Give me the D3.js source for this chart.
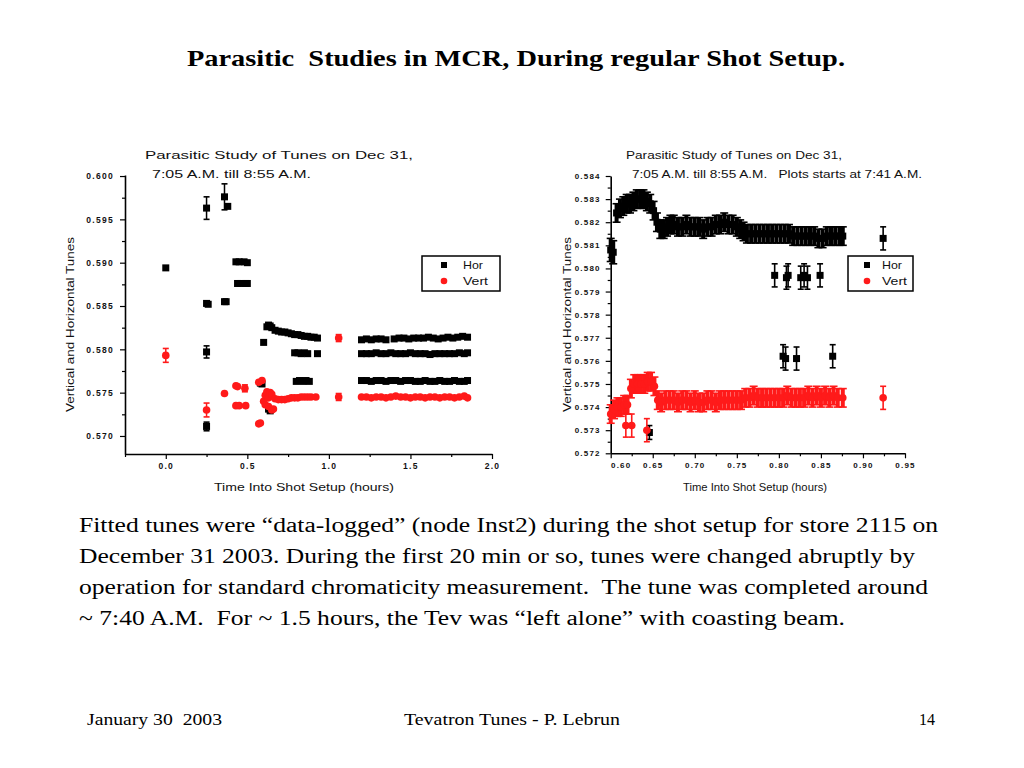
<!DOCTYPE html>
<html><head><meta charset="utf-8">
<script src="https://cdn.jsdelivr.net/npm/d3@7"></script>
<style>body{margin:0;background:#fff}svg{display:block}</style>
</head><body>
<svg id="c" width="1024" height="768"></svg>
<script>
// ---------- text ----------
const slideTitle = "Parasitic  Studies in MCR, During regular Shot Setup.";
const bodyLines = [
  "Fitted tunes were \u201cdata-logged\u201d (node Inst2) during the shot setup for store 2115 on",
  "December 31 2003. During the first 20 min or so, tunes were changed abruptly by",
  "operation for standard chromaticity measurement.  The tune was completed around",
  "~ 7:40 A.M.  For ~ 1.5 hours, the Tev was \u201cleft alone\u201d with coasting beam."
];
const footerLeft = "January 30  2003";
const footerCenter = "Tevatron Tunes - P. Lebrun";
const footerRight = "14";
const seriesNames = ["Hor", "Vert"];
const xAxisTitle = "Time Into Shot Setup (hours)";
const yAxisTitle = "Vertical and Horizontal Tunes";
const leftTitle = ["Parasitic Study of Tunes on Dec 31,", "7:05 A.M. till 8:55 A.M."];
const rightTitle = ["Parasitic Study of Tunes on Dec 31,", "7:05 A.M. till 8:55 A.M.   Plots starts at 7:41 A.M."];

// ---------- ticks ----------
const leftXTicks = [0.0, 0.5, 1.0, 1.5, 2.0];
const leftXLabels = ["0.0", "0.5", "1.0", "1.5", "2.0"];
const leftXMinor = [-0.25, 0.25, 0.75, 1.25, 1.75];
const leftYTicks = [0.570, 0.575, 0.580, 0.585, 0.590, 0.595, 0.600];
const leftYLabels = ["0.570", "0.575", "0.580", "0.585", "0.590", "0.595", "0.600"];
const leftYMinor = [0.5725, 0.5775, 0.5825, 0.5875, 0.5925, 0.5975];

const rightXTicks = [0.60, 0.65, 0.70, 0.75, 0.80, 0.85, 0.90, 0.95];
const rightXLabels = ["0.60", "0.65", "0.70", "0.75", "0.80", "0.85", "0.90", "0.95"];
const rightXMinor = [0.625, 0.675, 0.725, 0.775, 0.825, 0.875, 0.925];
const rightYTicks = [0.572, 0.573, 0.574, 0.575, 0.576, 0.577, 0.578, 0.579, 0.580, 0.581, 0.582, 0.583, 0.584];
const rightYLabels = ["0.572", "0.573", "0.574", "0.575", "0.576", "0.577", "0.578", "0.579", "0.580", "0.581", "0.582", "0.583", "0.584"];
const rightYMinor = [0.5725, 0.5735, 0.5745, 0.5755, 0.5765, 0.5775, 0.5785, 0.5795, 0.5805, 0.5815, 0.5825, 0.5835];

// ---------- data: [time (h), tune, error] ----------
const leftHor = [
  [0.00,0.5894,0],
  [0.25,0.5963,0.0013],[0.36,0.5976,0.0015],[0.38,0.5965,0],
  [0.43,0.5901,0],[0.45,0.5901,0],[0.48,0.5901,0],[0.50,0.5900,0],
  [0.44,0.5876,0],[0.46,0.5876,0],[0.49,0.5876,0],[0.50,0.5876,0],
  [0.25,0.5853,0],[0.26,0.5852,0],[0.36,0.5855,0],[0.37,0.5855,0],
  [0.25,0.5797,0.0007],[0.25,0.5711,0.0005],
  [0.60,0.5808,0],[0.58,0.5761,0],[0.59,0.5760,0],[0.63,0.5731,0],[0.64,0.5729,0],
  [0.62,0.5826,0],[0.63,0.5828,0],[0.64,0.5827,0],[0.65,0.5825,0],[0.67,0.5822,0],[0.69,0.5821,0],
  [0.71,0.5820,0],[0.73,0.5820,0],[0.75,0.5819,0],[0.77,0.5818,0],[0.79,0.5817,0],[0.81,0.5817,0],
  [0.83,0.5816,0],[0.85,0.5815,0],[0.87,0.5815,0],[0.89,0.5814,0],[0.91,0.5814,0],[0.93,0.5813,0],
  [0.79,0.5796,0],[0.81,0.5796,0],[0.83,0.5795,0],[0.85,0.5796,0],[0.87,0.5795,0],[0.93,0.5795,0],
  [0.80,0.5763,0],[0.82,0.5764,0],[0.84,0.5763,0],[0.86,0.5764,0],[0.88,0.5763,0],
  [1.20,0.5811,0],[1.23,0.5812,0],[1.26,0.5811,0],[1.29,0.5812,0],[1.32,0.5812,0],[1.35,0.5811,0],
  [1.40,0.5812,0],[1.43,0.5813,0],[1.46,0.5813,0],[1.49,0.5812,0],[1.52,0.5813,0],[1.55,0.5813,0],
  [1.58,0.5813,0],[1.61,0.5814,0],[1.64,0.5813,0],[1.67,0.5812,0],[1.70,0.5813,0],[1.73,0.5814,0],
  [1.76,0.5813,0],[1.79,0.5814,0],[1.82,0.5815,0],[1.85,0.5814,0],
  [1.20,0.5795,0],[1.23,0.5795,0],[1.26,0.5795,0],[1.29,0.5796,0],[1.32,0.5795,0],[1.35,0.5795,0],
  [1.38,0.5796,0],[1.41,0.5795,0],[1.44,0.5795,0],[1.47,0.5795,0],[1.50,0.5796,0],[1.53,0.5795,0],
  [1.56,0.5795,0],[1.59,0.5795,0],[1.62,0.5794,0],[1.65,0.5795,0],[1.68,0.5795,0],[1.71,0.5795,0],
  [1.74,0.5795,0],[1.77,0.5795,0],[1.80,0.5796,0],[1.83,0.5795,0],[1.85,0.5796,0],
  [1.20,0.5764,0],[1.23,0.5764,0],[1.26,0.5763,0],[1.29,0.5764,0],[1.32,0.5764,0],[1.35,0.5763,0],
  [1.38,0.5764,0],[1.41,0.5764,0],[1.44,0.5763,0],[1.47,0.5764,0],[1.50,0.5764,0],[1.53,0.5763,0],
  [1.56,0.5763,0],[1.59,0.5764,0],[1.62,0.5763,0],[1.65,0.5763,0],[1.68,0.5764,0],[1.71,0.5763,0],
  [1.74,0.5763,0],[1.77,0.5764,0],[1.80,0.5763,0],[1.83,0.5763,0],[1.85,0.5764,0]
];
const leftVert = [
  [0.00,0.5793,0.0008],[0.25,0.5730,0.0008],[0.36,0.5749,0],
  [0.43,0.5758,0],[0.44,0.5757,0],[0.485,0.5755,0.0004],
  [0.43,0.5735,0],[0.45,0.5735,0],[0.49,0.5735,0],
  [0.57,0.5762,0],[0.59,0.5764,0],[0.57,0.5714,0],[0.58,0.5715,0],
  [0.60,0.5740,0],[0.61,0.5736,0],[0.61,0.5747,0],[0.62,0.5751,0],[0.63,0.5744,0],[0.63,0.5734,0],
  [0.64,0.5750,0],[0.65,0.5730,0],[0.65,0.5748,0],[0.66,0.5731,0],[0.67,0.5743,0],[0.69,0.5742,0],
  [0.71,0.5742,0],[0.73,0.5742,0],[0.75,0.5743,0],[0.77,0.5744,0],[0.79,0.5744,0],[0.81,0.5744,0],
  [0.83,0.5745,0],[0.85,0.5745,0],[0.87,0.5745,0],[0.89,0.5745,0],[0.92,0.5745,0],
  [1.06,0.5813,0.0004],[1.06,0.5745,0.0004],
  [1.20,0.5745,0],[1.23,0.5745,0],[1.26,0.5744,0],[1.29,0.5745,0],[1.32,0.5745,0],[1.35,0.5744,0],
  [1.38,0.5745,0],[1.41,0.5746,0],[1.44,0.5745,0],[1.47,0.5745,0],[1.50,0.5744,0],[1.53,0.5745,0],
  [1.56,0.5745,0],[1.59,0.5744,0],[1.62,0.5745,0],[1.65,0.5745,0],[1.68,0.5744,0],[1.71,0.5745,0],
  [1.74,0.5745,0],[1.77,0.5744,0],[1.80,0.5745,0],[1.83,0.5746,0],[1.85,0.5744,0]
];
// right chart: continuous scan (dense) and isolated readings
const rightHorScan = [
  [0.600,0.5808,0.0005],[0.603,0.5807,0.0005],[0.607,0.5824,0.0004],[0.611,0.5826,0.0004],
  [0.615,0.5827,0.0004],[0.619,0.5828,0.0004],[0.623,0.5828,0.0004],[0.627,0.5829,0.0004],
  [0.631,0.5830,0.0004],[0.635,0.5830,0.0004],[0.639,0.5830,0.0004],[0.643,0.5829,0.0004],
  [0.647,0.5828,0.0004],[0.651,0.5825,0.0004],[0.655,0.5820,0.0004],[0.659,0.5817,0.0004],
  [0.663,0.5817,0.0004],[0.667,0.5818,0.0004],[0.671,0.5819,0.0004],[0.675,0.5819,0.0004],
  [0.680,0.5818,0.0004],[0.685,0.5818,0.0004],[0.690,0.5819,0.0004],[0.695,0.5818,0.0004],
  [0.700,0.5818,0.0004],[0.705,0.5818,0.0004],[0.710,0.5817,0.0004],[0.715,0.5818,0.0004],
  [0.720,0.5818,0.0004],[0.725,0.5819,0.0004],[0.730,0.5819,0.0004],[0.735,0.5820,0.0004],
  [0.740,0.5819,0.0004],[0.745,0.5819,0.0004],[0.750,0.5818,0.0004],[0.754,0.5817,0.0004],
  [0.758,0.5816,0.0004],[0.762,0.5815,0.0004],[0.767,0.5815,0.0004],[0.772,0.5815,0.0004],
  [0.777,0.5815,0.0004],[0.782,0.5815,0.0004],[0.787,0.5815,0.0004],[0.792,0.5815,0.0004],
  [0.797,0.5815,0.0004],[0.802,0.5815,0.0004],[0.807,0.5815,0.0004],[0.812,0.5815,0.0004],
  [0.817,0.5814,0.0004],[0.822,0.5814,0.0004],[0.827,0.5814,0.0004],[0.832,0.5814,0.0004],
  [0.837,0.5814,0.0004],[0.842,0.5814,0.0004],[0.847,0.5813,0.0004],[0.852,0.5813,0.0004],
  [0.857,0.5814,0.0004],[0.862,0.5814,0.0004],[0.867,0.5814,0.0004],[0.872,0.5814,0.0004],
  [0.876,0.5814,0.0004]
];
const rightHorSpots = [
  [0.924,0.5813,0.0005],
  [0.795,0.5797,0.0005],[0.809,0.5796,0.0005],[0.811,0.5797,0.0005],[0.826,0.5796,0.0005],
  [0.830,0.5797,0.0005],[0.834,0.5796,0.0005],[0.849,0.5797,0.0005],
  [0.805,0.5762,0.0005],[0.808,0.5761,0.0005],[0.821,0.5761,0.0005],[0.864,0.5762,0.0005],
  [0.646,0.5729,0.0003]
];
const rightVertScan = [
  [0.600,0.5737,0.0004],[0.604,0.5739,0.0004],[0.608,0.5740,0.0004],[0.612,0.5740,0.0004],
  [0.616,0.5741,0.0004],[0.620,0.5741,0.0004],[0.624,0.5748,0.0004],[0.628,0.5750,0.0004],
  [0.632,0.5750,0.0004],[0.636,0.5750,0.0004],[0.640,0.5750,0.0004],[0.644,0.5751,0.0004],
  [0.648,0.5751,0.0004],[0.652,0.5749,0.0004],[0.656,0.5743,0.0004],[0.660,0.5742,0.0004],
  [0.665,0.5743,0.0004],[0.670,0.5743,0.0004],[0.675,0.5743,0.0004],[0.680,0.5742,0.0004],
  [0.685,0.5743,0.0004],[0.690,0.5743,0.0004],[0.695,0.5742,0.0004],[0.700,0.5743,0.0004],
  [0.705,0.5742,0.0004],[0.710,0.5742,0.0004],[0.715,0.5743,0.0004],[0.720,0.5743,0.0004],
  [0.725,0.5742,0.0004],[0.730,0.5743,0.0004],[0.735,0.5743,0.0004],[0.740,0.5743,0.0004],
  [0.745,0.5743,0.0004],[0.750,0.5743,0.0004],[0.755,0.5743,0.0004],[0.760,0.5744,0.0004],
  [0.765,0.5744,0.0004],[0.770,0.5745,0.0004],[0.775,0.5744,0.0004],[0.780,0.5744,0.0004],
  [0.785,0.5744,0.0004],[0.790,0.5744,0.0004],[0.795,0.5744,0.0004],[0.800,0.5744,0.0004],
  [0.805,0.5744,0.0004],[0.810,0.5745,0.0004],[0.815,0.5744,0.0004],[0.820,0.5744,0.0004],
  [0.825,0.5744,0.0004],[0.830,0.5744,0.0004],[0.835,0.5745,0.0004],[0.840,0.5744,0.0004],
  [0.845,0.5745,0.0004],[0.850,0.5744,0.0004],[0.855,0.5745,0.0004],[0.860,0.5744,0.0004],
  [0.865,0.5745,0.0004],[0.870,0.5744,0.0004],[0.876,0.5744,0.0004]
];
const rightVertSpots = [
  [0.618,0.5732,0.0005],[0.625,0.5732,0.0005],[0.643,0.5730,0.0005],
  [0.924,0.5744,0.0005]
];

// ---------- drawing ----------
const svg = d3.select("#c");
svg.append("rect").attr("width",1024).attr("height",768).attr("fill","#fff");

const serif = "'Liberation Serif','Times New Roman',serif";
const sans = "'Liberation Sans',Arial,sans-serif";

function stretchedText(sel, x, y, w, anchor) {
  return sel.attr("x",x).attr("y",y).attr("text-anchor",anchor||"start")
    .attr("textLength",w).attr("lengthAdjust","spacingAndGlyphs").style("white-space","pre");
}

stretchedText(svg.append("text"),516,66,658,"middle")
  .attr("font-family",serif).attr("font-weight","bold").attr("font-size",24).text(slideTitle);

const bodyWidths = [859, 836, 849, 766];
svg.append("g").selectAll("text").data(bodyLines).join("text")
  .each(function(d,i){ stretchedText(d3.select(this),79,532+i*31,bodyWidths[i]); })
  .attr("font-family",serif).attr("font-size",21.3).text(d=>d);

stretchedText(svg.append("text"),87,725,135).attr("font-family",serif).attr("font-size",16.5).text(footerLeft);
stretchedText(svg.append("text"),512,725,216,"middle").attr("font-family",serif).attr("font-size",16.5).text(footerCenter);
stretchedText(svg.append("text"),935,725,16,"end").attr("font-family",serif).attr("font-size",16.5).text(footerRight);

const colors = {Hor:"#000", Vert:"#ff1a1a"};

function drawChart(cfg) {
  const g = svg.append("g");
  const x = d3.scaleLinear().domain(cfg.xDomain).range(cfg.xRange);
  const y = d3.scaleLinear().domain(cfg.yDomain).range(cfg.yRange);
  const y0 = cfg.yRange[0], x0 = cfg.xRange[0];

  const xa = g.append("g").attr("transform",`translate(0,${y0})`)
    .call(d3.axisBottom(x).tickValues(cfg.xTicks).tickFormat((d,i)=>cfg.xLabels[i]).tickSize(5).tickSizeOuter(0).tickPadding(4));
  g.append("g").attr("transform",`translate(0,${y0})`)
    .call(d3.axisBottom(x).tickValues(cfg.xMinor).tickFormat("").tickSize(3).tickSizeOuter(0))
    .select(".domain").remove();
  g.append("g").attr("transform",`translate(${x0},0)`)
    .call(d3.axisLeft(y).tickValues(cfg.yTicks).tickFormat((d,i)=>cfg.yLabels[i]).tickSize(5).tickSizeOuter(0).tickPadding(cfg.yPad));
  g.append("g").attr("transform",`translate(${x0},0)`)
    .call(d3.axisLeft(y).tickValues(cfg.yMinor).tickFormat("").tickSize(3).tickSizeOuter(0))
    .select(".domain").remove();
  g.selectAll(".domain").attr("stroke","#000").attr("stroke-width",1.6);
  g.selectAll(".tick line").attr("stroke","#000").attr("stroke-width",1.2);
  g.selectAll(".tick text").attr("font-family",sans).attr("font-size",cfg.tickFont)
    .attr("font-weight","bold").attr("letter-spacing",cfg.tickSpacing).attr("fill","#111");
  if (cfg.firstXLabelShift) xa.select(".tick text").attr("dx",cfg.firstXLabelShift);

  cfg.title.forEach((t,i)=>{
    stretchedText(g.append("text"),cfg.titlePos[i][0],cfg.titlePos[i][1],cfg.titlePos[i][2])
      .attr("font-family",sans).attr("font-size",11).attr("fill","#111").text(t);
  });
  stretchedText(g.append("text"),cfg.xTitle[0],cfg.xTitle[1],cfg.xTitle[2])
    .attr("font-family",sans).attr("font-size",11).attr("fill","#111").text(xAxisTitle);
  g.append("text").attr("transform",`translate(${cfg.yTitle[0]},${cfg.yTitle[1]}) rotate(-90)`)
    .attr("font-family",sans).attr("font-size",11).attr("fill","#111")
    .attr("textLength",cfg.yTitle[2]).attr("lengthAdjust","spacingAndGlyphs").text(yAxisTitle);

  function plot(name, data, barW, capHalf) {
    const c = colors[name];
    const sg = g.append("g");
    const eb = data.filter(d=>d[2]>0);
    sg.selectAll("line.v").data(eb).join("line").attr("class","v")
      .attr("x1",d=>x(d[0])).attr("x2",d=>x(d[0])).attr("y1",d=>y(d[1]-d[2])).attr("y2",d=>y(d[1]+d[2]))
      .attr("stroke",c).attr("stroke-width",barW);
    ["top","bot"].forEach(k=>{
      sg.selectAll("line."+k).data(eb).join("line").attr("class",k)
        .attr("x1",d=>x(d[0])-capHalf).attr("x2",d=>x(d[0])+capHalf)
        .attr("y1",d=>y(k==="top"?d[1]+d[2]:d[1]-d[2])).attr("y2",d=>y(k==="top"?d[1]+d[2]:d[1]-d[2]))
        .attr("stroke",c).attr("stroke-width",1.6);
    });
    if (name==="Hor") {
      sg.selectAll("rect").data(data).join("rect")
        .attr("x",d=>x(d[0])-3.5).attr("y",d=>y(d[1])-3.5).attr("width",7).attr("height",7).attr("fill",c);
    } else {
      sg.selectAll("circle").data(data).join("circle")
        .attr("cx",d=>x(d[0])).attr("cy",d=>y(d[1])).attr("r",3.8).attr("fill",c);
    }
  }
  cfg.layers.forEach(l=>plot(l[0],l[1],l[2],l[3]));

  const L = cfg.legend;
  g.append("rect").attr("x",L[0]).attr("y",L[1]).attr("width",L[2]).attr("height",L[3])
    .attr("fill","#fff").attr("stroke","#000").attr("stroke-width",1.5);
  seriesNames.forEach((n,i)=>{
    const my = L[1]+9+i*16;
    if (n==="Hor") g.append("rect").attr("x",L[4]-3).attr("y",my-3).attr("width",6).attr("height",6).attr("fill",colors[n]);
    else g.append("circle").attr("cx",L[4]).attr("cy",my).attr("r",3.3).attr("fill",colors[n]);
    g.append("text").attr("x",L[5]).attr("y",my+4).attr("font-family",sans).attr("font-size",11)
      .attr("fill","#111").attr("textLength",n==="Hor"?20:25).attr("lengthAdjust","spacingAndGlyphs").text(n);
  });
}

drawChart({
  xDomain:[-0.25,2.0], xRange:[125,492], yDomain:[0.56792,0.60012], yRange:[454,175],
  xTicks:leftXTicks, xLabels:leftXLabels, xMinor:leftXMinor,
  yTicks:leftYTicks, yLabels:leftYLabels, yMinor:leftYMinor, tickFont:8.5, tickSpacing:1.3, yPad:6,
  title:leftTitle, titlePos:[[145,159,268],[152,178,159]],
  xTitle:[214,491,180], yTitle:[74,412,175],
  layers:[["Hor",leftHor,1.5,3],["Vert",leftVert,1.5,3]],
  legend:[422,256,78,35,444,463]
});
drawChart({
  xDomain:[0.60,0.95], xRange:[610.7,905], yDomain:[0.572,0.584], yRange:[453.3,176],
  xTicks:rightXTicks, xLabels:rightXLabels, xMinor:rightXMinor,
  yTicks:rightYTicks, yLabels:rightYLabels, yMinor:rightYMinor, tickFont:8, tickSpacing:1.2, yPad:5, firstXLabelShift:10,
  title:rightTitle, titlePos:[[626,159,216],[632,178,290]],
  xTitle:[683,491,144], yTitle:[571,412,175],
  layers:[["Hor",rightHorScan,4,4],["Hor",rightHorSpots,1.6,3],["Vert",rightVertScan,4,4],["Vert",rightVertSpots,1.6,3]],
  legend:[848,256,65,35,867,882]
});
</script>
</body></html>
